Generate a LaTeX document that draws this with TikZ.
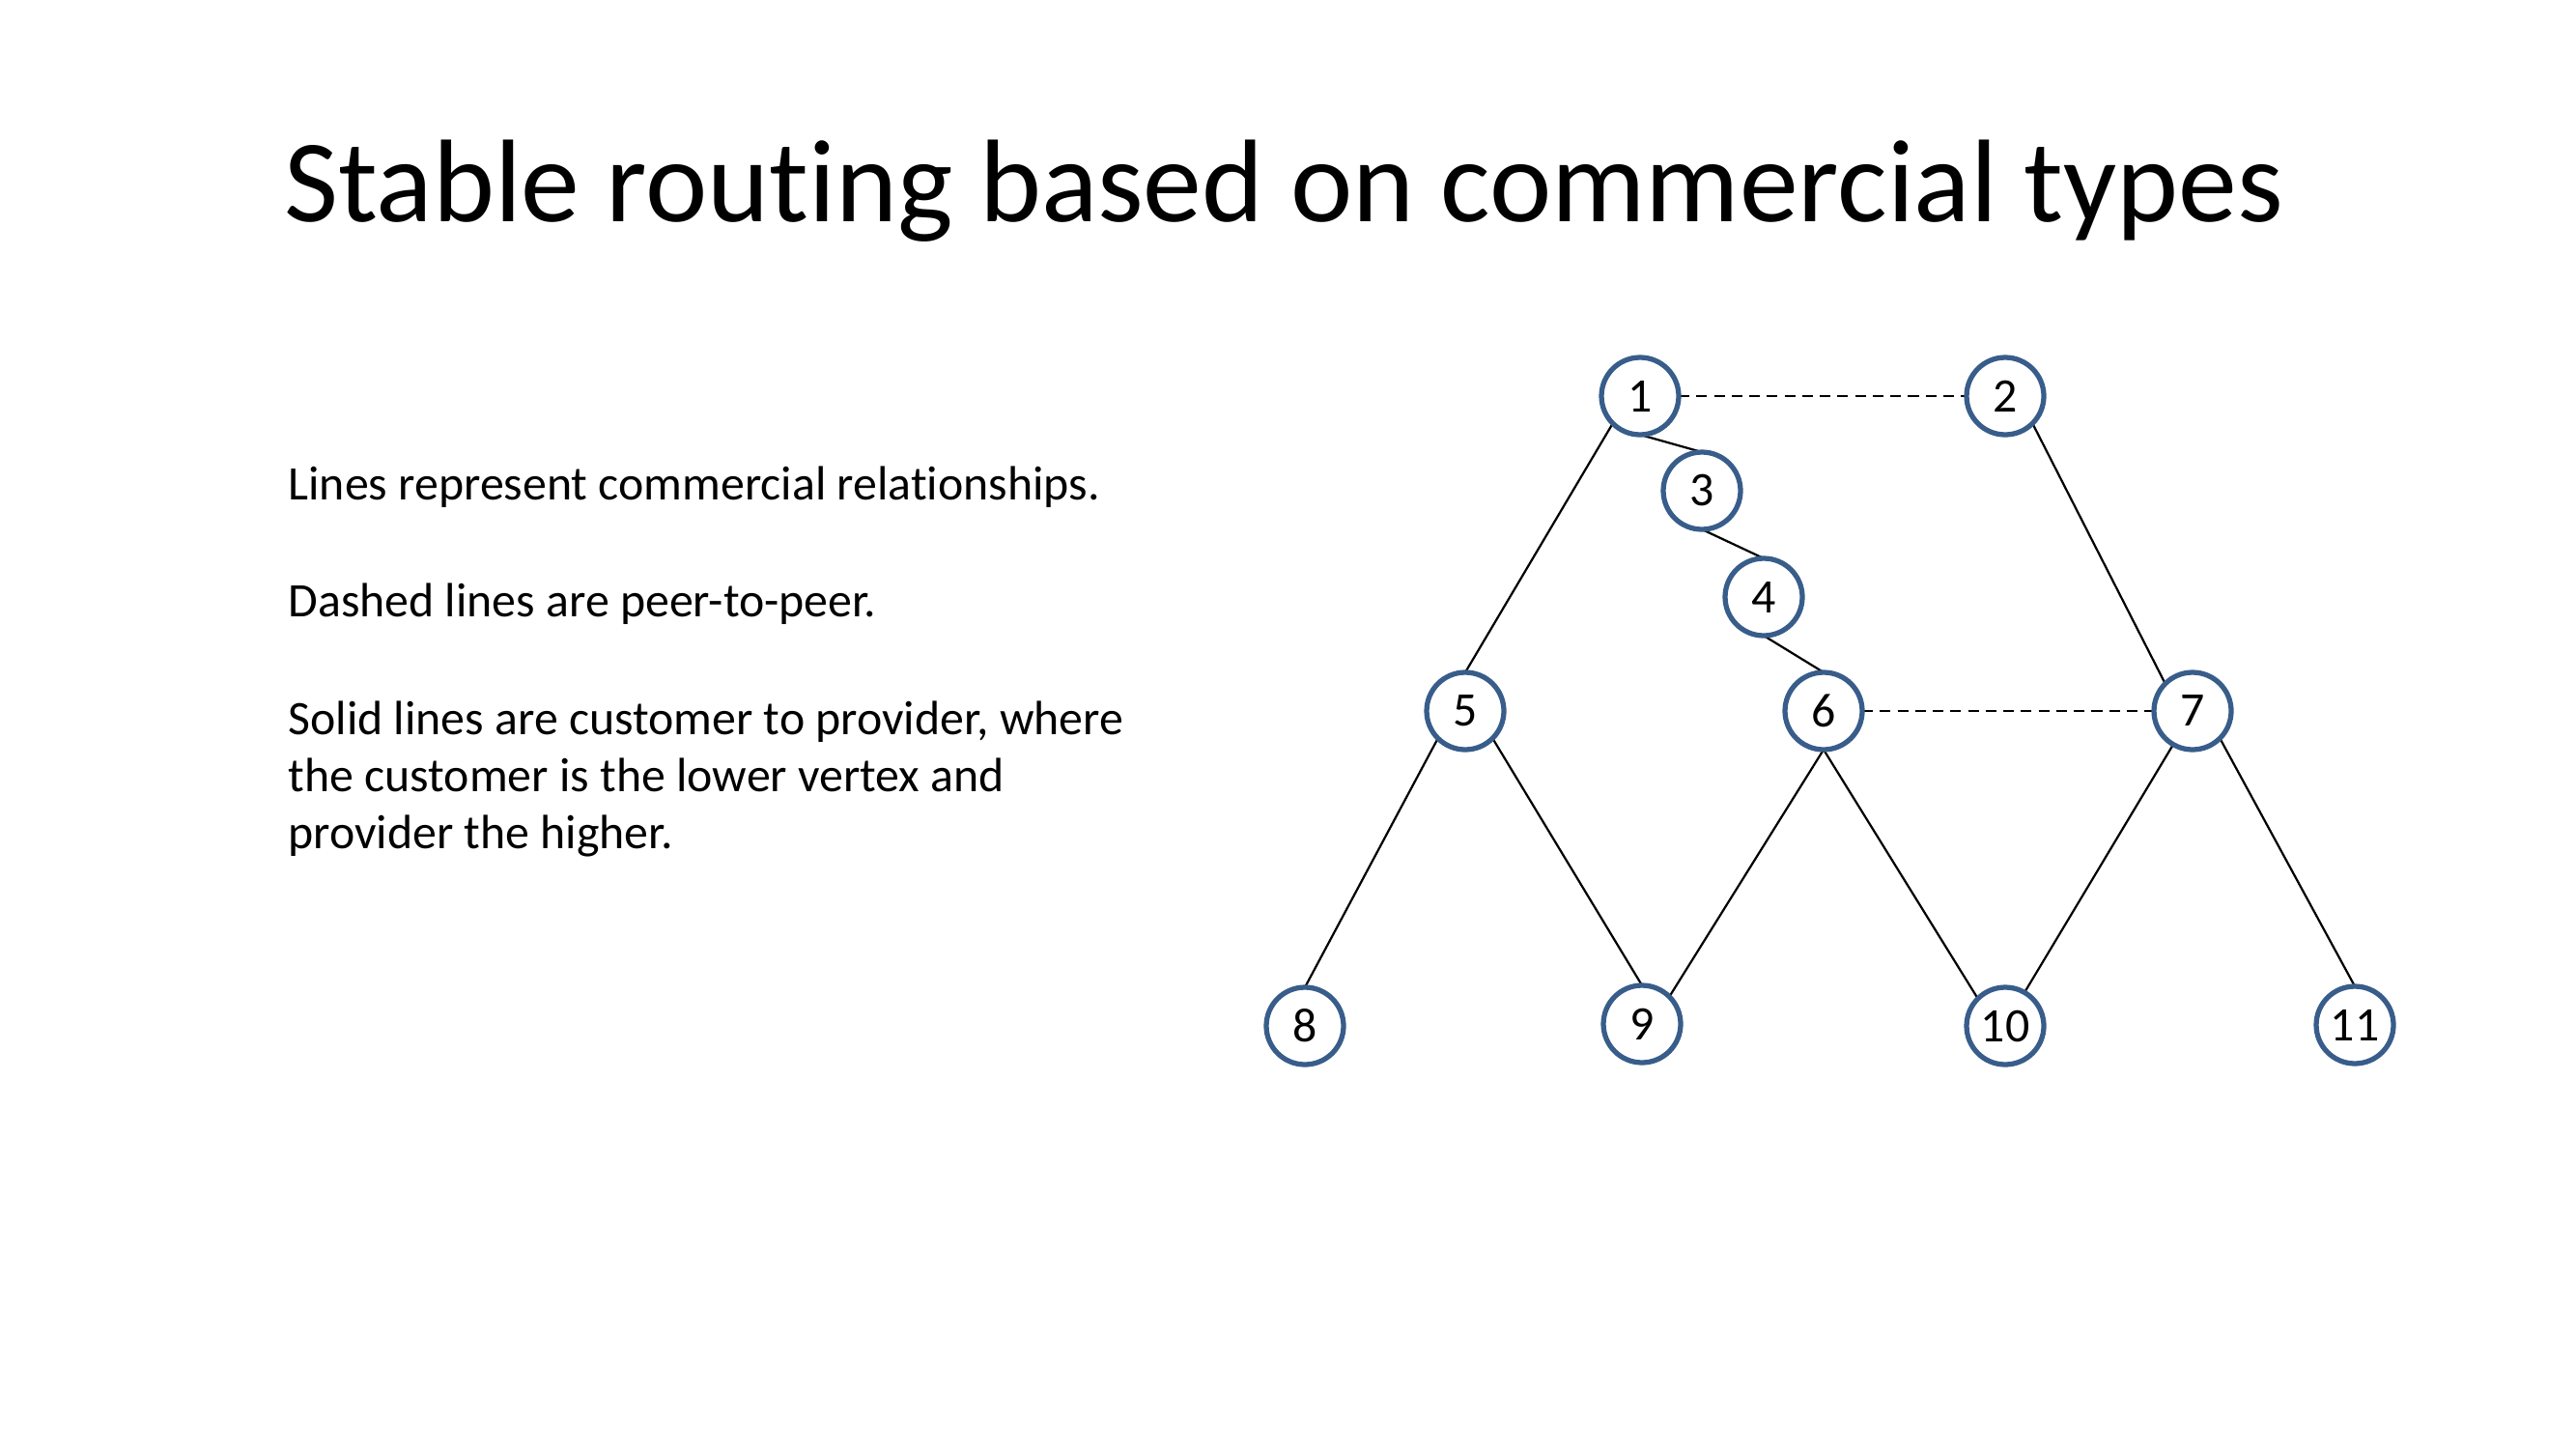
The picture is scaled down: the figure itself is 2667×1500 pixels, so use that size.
\documentclass[tikz,border=0pt]{standalone}
\usepackage{fontspec}
\setmainfont{Carlito}[Ligatures=NoCommon]
\definecolor{nodeblue}{RGB}{56,93,138}
\pgfdeclarelayer{bg}
\pgfsetlayers{bg,main}
\begin{document}
\begin{tikzpicture}[x=0.36135pt,y=-0.36135pt,
  vertex/.style={circle,draw=nodeblue,fill=white,line width=1.9pt,minimum size=28.9pt,inner sep=0pt,outer sep=0pt,font=\fontsize{18}{21.6}\selectfont},
  cust/.style={draw=black,line width=0.8pt},
  peer/.style={draw=black,line width=0.9pt,dash pattern=on 4pt off 2.6pt},
  bodytext/.style={anchor=base west,inner sep=0pt,font=\fontsize{18}{21.6}\selectfont},
  titletext/.style={anchor=base west,inner sep=0pt,font=\fontsize{44}{52.8}\selectfont}]
\useasboundingbox (0,0) rectangle (2667,1500);

\node[titletext] (title) at (294,229) {Stable routing based on commercial types};

\node[bodytext] (t1) at (298,517) {Lines represent commercial relationships.};
\node[bodytext] (t2) at (298,638) {Dashed lines are peer-to-peer.};
\node[bodytext] (t3) at (298,760) {Solid lines are customer to provider, where};
\node[bodytext] (t4) at (298,819) {the customer is the lower vertex and};
\node[bodytext] (t5) at (298,878) {provider the higher.};

\node[vertex] (n1) at (1698,410) {1};
\node[vertex] (n2) at (2076,410) {2};
\node[vertex] (n3) at (1762,508) {3};
\node[vertex] (n4) at (1826,618) {4};
\node[vertex] (n5) at (1517,736) {5};
\node[vertex] (n6) at (1888,736) {6};
\node[vertex] (n7) at (2270,736) {7};
\node[vertex] (n8) at (1351,1062) {8};
\node[vertex] (n9) at (1700,1060) {9};
\node[vertex] (n10) at (2076,1062) {10};
\node[vertex] (n11) at (2438,1061) {11};

\begin{pgfonlayer}{bg}
\fill[white] (0,0) rectangle (2667,1500);
\draw[peer] (n1.east) -- (n2.west);
\draw[peer] (n6.east) -- (n7.west);
\draw[cust] (n1.south) -- (n3.north);
\draw[cust] (n3.south) -- (n4.north);
\draw[cust] (n4.south) -- (n6.north);
\draw[cust] (n1.south west) -- (n5.north);
\draw[cust] (n2.south east) -- (n7.north west);
\draw[cust] (n5.south west) -- (n8.north);
\draw[cust] (n5.south east) -- (n9.north);
\draw[cust] (n6.south) -- (n9.north east);
\draw[cust] (n6.south) -- (n10.north west);
\draw[cust] (n7.240) -- (n10.60);
\draw[cust] (n7.south east) -- (n11.north);
\end{pgfonlayer}
\end{tikzpicture}
\end{document}
